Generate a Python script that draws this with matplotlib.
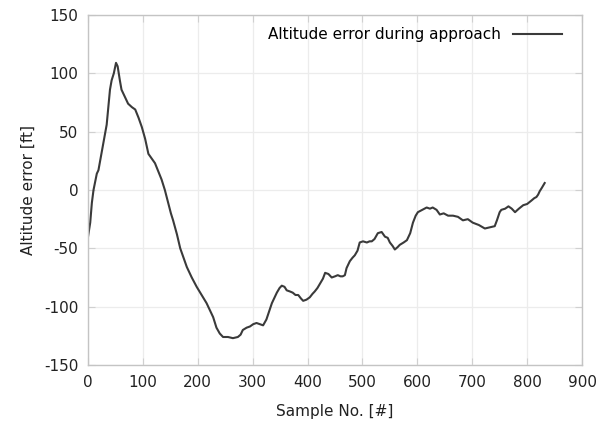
import matplotlib
matplotlib.use("Agg")
import matplotlib.pyplot as plt

plt.rcParams["axes.unicode_minus"] = False

# sample number vs altitude error [ft]
sample = [0, 4, 7, 10, 16, 19, 26, 34, 40, 43, 47, 51, 54, 58, 61, 67, 73, 80, 86, 92,
          98, 104, 110, 116, 122, 128, 134, 140, 146, 151, 155, 162, 168, 174, 180, 189,
          198, 207, 216, 222, 228, 234, 240, 246, 255, 264, 273, 278, 282, 289, 295, 301,
          307, 313, 319, 325, 330, 335, 340, 344, 349, 353, 358, 362, 368, 373, 378, 383,
          388, 392, 398, 404, 409, 413, 418, 423, 428, 432, 438, 444, 450, 455, 460, 464,
          468, 471, 474, 477, 482, 486, 491, 495, 501, 508, 513, 517, 522, 528, 535, 541,
          546, 550, 555, 559, 564, 568, 575, 581, 587, 592, 597, 601, 609, 617, 623, 628,
          635, 641, 648, 656, 665, 674, 683, 692, 701, 712, 723, 732, 741, 745, 750, 753,
          760, 766, 772, 778, 785, 793, 800, 808, 813, 817, 820, 823, 827, 832]
alt_error = [-40, -28, -11, 0, 14, 17, 35, 56, 86, 94, 100, 109, 106, 94, 86, 80, 74, 71, 69, 62,
             54, 44, 31, 27, 23, 16, 9, 0, -11, -20, -26, -38, -50, -58, -66, -75,
             -83, -90, -97, -103, -109, -118, -123, -126, -126, -127, -126, -124, -120, -118, -117, -115,
             -114, -115, -116, -111, -104, -97, -92, -88, -84, -82, -83, -86, -87, -88, -90, -90,
             -93, -95, -94, -92, -89, -87, -84, -80, -76, -71, -72, -75, -74, -73, -74, -74,
             -73, -67, -64, -61, -58, -56, -52, -45, -44, -45, -44, -44, -42, -37, -36, -40,
             -41, -45, -48, -51, -49, -47, -45, -43, -37, -28, -22, -19, -17, -15, -16, -15,
             -17, -21, -20, -22, -22, -23, -26, -25, -28, -30, -33, -32, -31, -26, -19, -17,
             -16, -14, -16, -19, -16, -13, -12, -9, -7, -6, -4, -1, 2, 6]

fig = plt.figure(figsize=(6.0, 4.34), dpi=100)
ax = fig.add_axes([0.1467, 0.159, 0.8233, 0.8064])

ax.plot(sample, alt_error, color="#3a3a3a", linewidth=1.5, label="Altitude error during approach")

ax.set_xlim(0, 900)
ax.set_ylim(-150, 150)
ax.set_xticks(range(0, 901, 100))
ax.set_yticks(range(-150, 151, 50))
ax.grid(True, color="#ececec", linewidth=0.9)
ax.set_axisbelow(True)
for spine in ax.spines.values():
    spine.set_color("#c4c4c4")
    spine.set_linewidth(1.0)
ax.tick_params(direction="in", length=5, color="#d0d0d0", top=True, right=True,
               labelsize=11, labelcolor="#222222", pad=7)

ax.set_xlabel("Sample No. [#]", fontsize=11, color="#222222", labelpad=10)
ax.set_ylabel("Altitude error [ft]", fontsize=11, color="#222222", labelpad=6)

ax.legend(loc="upper right", frameon=False, markerfirst=False, fontsize=11,
          handlelength=3.2, borderaxespad=0.4, bbox_to_anchor=(0.985, 1.0))

fig.savefig("out.png", dpi=100)
